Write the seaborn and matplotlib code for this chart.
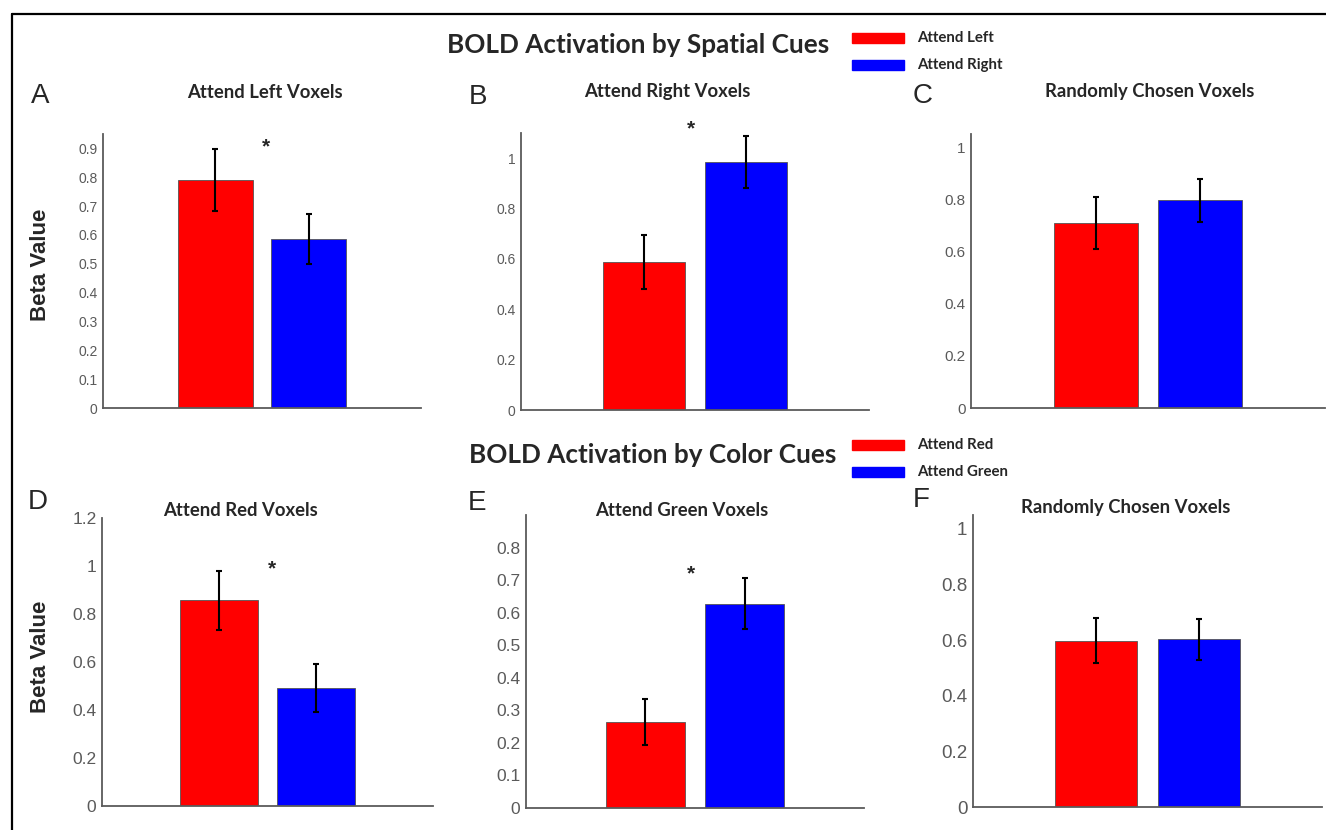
import numpy as np
import pandas as pd
import seaborn as sns
import matplotlib.pyplot as plt
from matplotlib.patches import Rectangle
from matplotlib.lines import Line2D
from matplotlib.ticker import FuncFormatter

W, H = 1326, 830

# ===== Data =====
spatial_conditions = ['Attend Left', 'Attend Right']
color_conditions = ['Attend Red', 'Attend Green']

panel_titles = ['Attend Left Voxels', 'Attend Right Voxels', 'Randomly Chosen Voxels',
                'Attend Red Voxels', 'Attend Green Voxels', 'Randomly Chosen Voxels']
panel_letters = ['A', 'B', 'C', 'D', 'E', 'F']

beta_A = [0.79, 0.585]
err_A = [0.107, 0.087]
beta_B = [0.588, 0.985]
err_B = [0.107, 0.104]
beta_C = [0.709, 0.796]
err_C = [0.100, 0.083]
beta_D = [0.857, 0.490]
err_D = [0.124, 0.100]
beta_E = [0.264, 0.628]
err_E = [0.071, 0.077]
beta_F = [0.598, 0.603]
err_F = [0.080, 0.073]

significant = [True, True, False, True, True, False]

y_max = [0.95, 1.1, 1.05, 1.2, 0.9, 1.05]
tick_top = [0.9, 1.0, 1.0, 1.2, 0.8, 1.0]
tick_step = [0.1, 0.2, 0.2, 0.2, 0.1, 0.2]

# ===== Layout (pixels) =====
boxes = [(103, 134, 421, 408), (521, 133, 869, 410), (971, 134, 1325, 408),
         (102, 518, 433, 806), (526, 515, 864, 808), (973, 515, 1322, 807)]
title_pos = [(265, 92), (667, 92), (1150, 92), (240, 511), (682, 511), (1126, 508)]
letter_pos = [(40, 96), (478, 97), (923, 96), (38, 502), (477, 503), (921, 500)]
star_pos = [(0.54, 0.905), (0.46, 1.116), None, (0.55, 0.99), (0.46, 0.72), None]
tick_size = [10, 10, 11, 12.5, 12.5, 13.5]

red, blue = '#FF0000', '#0000FF'
axis_gray = '#5a5a5a'


def fx(px):
    return px / W


def fy(py):
    return 1 - py / H


sns.set_style('white')
plt.rcParams['font.family'] = ['Liberation Sans', 'DejaVu Sans']

fig = plt.figure(figsize=(W / 100, H / 100), dpi=100)

values = [beta_A, beta_B, beta_C, beta_D, beta_E, beta_F]
errors = [err_A, err_B, err_C, err_D, err_E, err_F]

for i in range(6):
    x0, y0, x1, y1 = boxes[i]
    ax = fig.add_axes([fx(x0), fy(y1), (x1 - x0) / W, (y1 - y0) / H])
    conds = spatial_conditions if i < 3 else color_conditions
    df = pd.DataFrame({'cond': conds, 'beta': values[i]})
    sns.barplot(data=df, x='cond', y='beta', hue='cond', palette=[red, blue],
                legend=False, ax=ax, width=0.8, edgecolor='#555555', linewidth=0.6,
                saturation=1)
    ax.errorbar([0, 1], values[i], yerr=errors[i], fmt='none', ecolor='black',
                elinewidth=1.5, capsize=2.5, capthick=1.5, zorder=5)
    ax.set_xlim(-1.2, 2.2)
    ax.set_ylim(0, y_max[i])
    ticks = np.round(np.arange(0, tick_top[i] + tick_step[i] / 2, tick_step[i]), 2)
    ax.set_yticks(ticks)
    ax.yaxis.set_major_formatter(FuncFormatter(lambda v, p: f'{v:g}'))
    ax.set_xticks([0])
    ax.set_xticklabels([''])
    ax.set_xlabel('')
    ax.set_ylabel('')
    for s in ['top', 'right']:
        ax.spines[s].set_visible(False)
    for s in ['left', 'bottom']:
        ax.spines[s].set_color(axis_gray)
        ax.spines[s].set_linewidth(1.3)
    ax.tick_params(axis='both', direction='in', length=3, width=1, color=axis_gray,
                   labelcolor=axis_gray, labelsize=tick_size[i], pad=4)
    ax.patch.set_alpha(0)
    if significant[i]:
        sx, sy = star_pos[i]
        ax.text(sx, sy, '*', ha='center', va='center', fontsize=15,
                fontweight='bold', clip_on=False)

    tx, ty = title_pos[i]
    fig.text(fx(tx), fy(ty), panel_titles[i], ha='center', va='center',
             family='Lato', fontweight='bold', fontsize=13.3)
    lx, ly = letter_pos[i]
    fig.text(fx(lx), fy(ly), panel_letters[i], ha='center', va='center', fontsize=20)

# row titles
fig.text(fx(638), fy(45), 'BOLD Activation by Spatial Cues', ha='center', va='center',
         family='Lato', fontweight='bold', fontsize=18.8)
fig.text(fx(653), fy(455), 'BOLD Activation by Color Cues', ha='center', va='center',
         family='Lato', fontweight='bold', fontsize=18.8)

# y labels
for py in [265, 657]:
    fig.text(fx(40), fy(py), 'Beta Value', ha='center', va='center', rotation=90,
             fontweight='bold', fontsize=16)

# legends
legend_rows = [(38, red, spatial_conditions[0]), (65, blue, spatial_conditions[1]),
               (445, red, color_conditions[0]), (472, blue, color_conditions[1])]
for py, col, lab in legend_rows:
    fig.patches.append(Rectangle((fx(852), fy(py + 5)), 52 / W, 10 / H, color=col,
                                 transform=fig.transFigure, figure=fig))
    fig.text(fx(917), fy(py), lab, ha='left', va='center', family='Lato',
             fontweight='bold', fontsize=10.8)

# frame
fig.add_artist(Line2D([fx(12), fx(12)], [fy(14), 0], color='black', lw=1.6,
                      transform=fig.transFigure))
fig.add_artist(Line2D([fx(12), 1], [fy(14), fy(14)], color='black', lw=1.6,
                      transform=fig.transFigure))

fig.savefig('out.png', dpi=100)
